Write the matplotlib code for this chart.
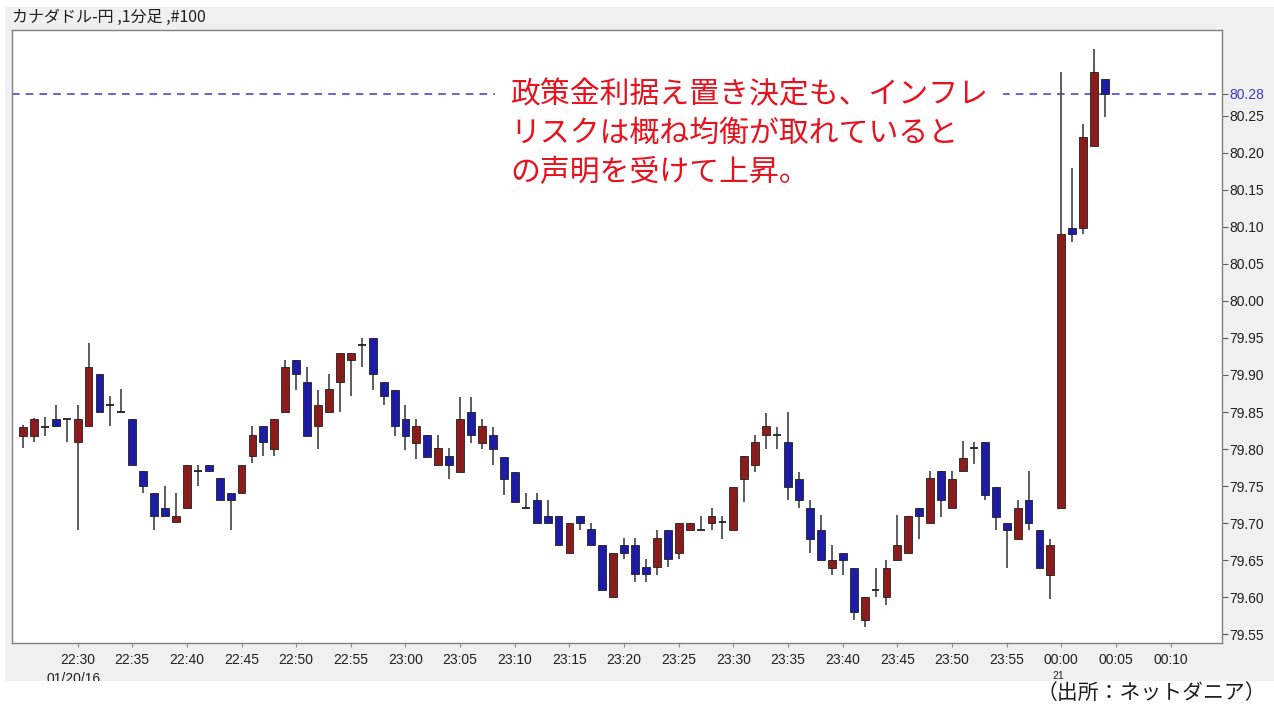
import matplotlib
matplotlib.use('Agg')
import matplotlib.pyplot as plt
from matplotlib.patches import Rectangle
import matplotlib.transforms as mtransforms
import numpy as np

plt.rcParams['font.family'] = ['Noto Sans CJK JP', 'DejaVu Sans']

# カナダドル/円 1分足 (22:25 - 00:04), 100本
opens = [79.818, 79.818, 79.830, 79.841, 79.841, 79.809, 79.831, 79.902, 79.860, 79.850,
         79.841, 79.770, 79.740, 79.721, 79.701, 79.721, 79.770, 79.779, 79.761, 79.740,
         79.740, 79.790, 79.831, 79.800, 79.850, 79.920, 79.891, 79.831, 79.850, 79.890,
         79.920, 79.941, 79.950, 79.891, 79.880, 79.840, 79.808, 79.819, 79.778, 79.790,
         79.769, 79.850, 79.808, 79.819, 79.789, 79.769, 79.720, 79.731, 79.710, 79.710,
         79.660, 79.710, 79.692, 79.670, 79.600, 79.670, 79.670, 79.640, 79.640, 79.691,
         79.660, 79.690, 79.690, 79.700, 79.701, 79.690, 79.759, 79.778, 79.819, 79.819,
         79.810, 79.760, 79.721, 79.691, 79.639, 79.660, 79.639, 79.569, 79.609, 79.600,
         79.650, 79.660, 79.721, 79.700, 79.771, 79.721, 79.771, 79.801, 79.810, 79.749,
         79.700, 79.678, 79.731, 79.690, 79.630, 79.720, 80.099, 80.099, 80.209, 80.300]
highs = [79.832, 79.842, 79.843, 79.860, 79.841, 79.860, 79.943, 79.902, 79.871, 79.881,
         79.841, 79.770, 79.740, 79.750, 79.741, 79.779, 79.779, 79.779, 79.761, 79.740,
         79.779, 79.831, 79.831, 79.841, 79.920, 79.920, 79.911, 79.880, 79.901, 79.930,
         79.930, 79.950, 79.950, 79.891, 79.880, 79.859, 79.840, 79.819, 79.819, 79.801,
         79.870, 79.870, 79.840, 79.830, 79.789, 79.769, 79.740, 79.740, 79.731, 79.710,
         79.700, 79.710, 79.700, 79.670, 79.660, 79.680, 79.680, 79.652, 79.691, 79.691,
         79.700, 79.700, 79.709, 79.720, 79.709, 79.749, 79.790, 79.819, 79.849, 79.830,
         79.850, 79.769, 79.731, 79.711, 79.670, 79.660, 79.639, 79.600, 79.639, 79.650,
         79.711, 79.710, 79.721, 79.771, 79.771, 79.771, 79.811, 79.810, 79.810, 79.749,
         79.700, 79.731, 79.770, 79.690, 79.679, 80.309, 80.179, 80.239, 80.341, 80.300]
lows = [79.801, 79.809, 79.818, 79.831, 79.809, 79.690, 79.831, 79.850, 79.831, 79.850,
        79.779, 79.741, 79.690, 79.709, 79.701, 79.721, 79.750, 79.770, 79.731, 79.690,
        79.740, 79.781, 79.790, 79.790, 79.850, 79.880, 79.818, 79.800, 79.850, 79.850,
        79.871, 79.911, 79.880, 79.860, 79.818, 79.799, 79.787, 79.789, 79.778, 79.759,
        79.769, 79.808, 79.800, 79.778, 79.738, 79.729, 79.720, 79.700, 79.700, 79.670,
        79.660, 79.691, 79.670, 79.610, 79.600, 79.651, 79.620, 79.620, 79.630, 79.640,
        79.651, 79.690, 79.690, 79.690, 79.679, 79.690, 79.729, 79.769, 79.800, 79.800,
        79.731, 79.721, 79.659, 79.650, 79.630, 79.630, 79.569, 79.560, 79.600, 79.589,
        79.650, 79.660, 79.679, 79.700, 79.708, 79.721, 79.771, 79.780, 79.731, 79.690,
        79.639, 79.678, 79.690, 79.639, 79.598, 79.720, 80.080, 80.090, 80.209, 80.249]
closes = [79.830, 79.841, 79.830, 79.831, 79.841, 79.841, 79.911, 79.850, 79.860, 79.850,
          79.779, 79.750, 79.709, 79.709, 79.710, 79.779, 79.770, 79.770, 79.731, 79.731,
          79.779, 79.819, 79.810, 79.841, 79.911, 79.901, 79.818, 79.860, 79.881, 79.930,
          79.930, 79.941, 79.901, 79.871, 79.831, 79.818, 79.831, 79.789, 79.801, 79.778,
          79.840, 79.819, 79.831, 79.800, 79.759, 79.729, 79.720, 79.700, 79.700, 79.670,
          79.700, 79.700, 79.670, 79.610, 79.660, 79.660, 79.631, 79.631, 79.680, 79.651,
          79.700, 79.700, 79.690, 79.710, 79.701, 79.749, 79.790, 79.810, 79.831, 79.819,
          79.749, 79.731, 79.678, 79.650, 79.650, 79.650, 79.580, 79.600, 79.609, 79.639,
          79.670, 79.710, 79.710, 79.761, 79.731, 79.760, 79.788, 79.801, 79.738, 79.708,
          79.691, 79.721, 79.700, 79.639, 79.670, 80.090, 80.090, 80.221, 80.309, 80.279]

tick_labels = ['22:30', '22:35', '22:40', '22:45', '22:50', '22:55', '23:00', '23:05',
               '23:10', '23:15', '23:20', '23:25', '23:30', '23:35', '23:40', '23:45',
               '23:50', '23:55', '00:00', '00:05', '00:10']
price_ticks = [79.55, 79.60, 79.65, 79.70, 79.75, 79.80, 79.85, 79.90, 79.95,
               80.00, 80.05, 80.10, 80.15, 80.20, 80.25]
last_price = 80.28

W, H = 1274, 704
fig = plt.figure(figsize=(W / 100, H / 100), dpi=100, facecolor='white')

# 灰色の背景
bg = Rectangle((5 / W, 1 - 681 / H), (W - 5) / W, (681 - 7) / H,
               transform=fig.transFigure, facecolor='#f0f0f0',
               edgecolor='none', zorder=-10)
fig.patches.append(bg)

ax = fig.add_axes([12 / W, 1 - 643 / H, (1222 - 12) / W, (643 - 30) / H])
ax.set_zorder(1)
ax.set_facecolor('white')

x = np.arange(len(opens))
o = np.array(opens)
c = np.array(closes)
up = c >= o
body_w = 0.72

# ヒゲ
ax.vlines(x, lows, highs, color='#505050', lw=1.3, zorder=2)
# 実体
bottom = np.minimum(o, c)
height = np.abs(c - o)
colors = np.where(up, '#8c1c1c', '#1c1ca6')
solid = height > 0.001
ax.bar(x[solid], height[solid], bottom=bottom[solid], width=body_w,
       color=colors[solid], edgecolor='#202020', linewidth=0.6, zorder=3)
# 同事線
ax.hlines(o[~solid], x[~solid] - body_w / 2, x[~solid] + body_w / 2,
          color='#202020', lw=1.3, zorder=3)

# 最新値の点線
ax.axhline(last_price, color='#3a3ad0', lw=1.1, ls=(0, (5, 4)), zorder=1)

ax.set_xlim(-1.0, 109.7)
ax.set_ylim(79.538, 80.366)

ax.set_xticks(np.arange(5, 5 + 5 * len(tick_labels), 5))
ax.set_xticklabels(tick_labels, family=['Liberation Sans', 'DejaVu Sans'],
                   fontsize=10, color='#202020')
ax.yaxis.tick_right()
ax.set_yticks(price_ticks + [last_price])
ylabels = ['%.2f' % v for v in price_ticks] + ['%.2f' % last_price]
ax.set_yticklabels(ylabels, family=['Liberation Sans', 'DejaVu Sans'], fontsize=10)
for lab in ax.get_yticklabels():
    lab.set_color('#202020')
ax.get_yticklabels()[-1].set_color('#3a3ad0')
ax.tick_params(axis='y', length=4, width=0.8, color='#606060', pad=1)
ax.tick_params(axis='x', length=3, width=0.8, color='#909090', pad=4)

for s in ax.spines.values():
    s.set_color('#808080')
    s.set_linewidth(1.0)

# 日付 (下側は背景の外で切れる)
tr = mtransforms.blended_transform_factory(ax.transData, fig.transFigure)
t1 = ax.text(4.6, 1 - 679 / H, '01/20/16', transform=tr, ha='center', va='center',
             fontsize=10, family=['Liberation Sans', 'DejaVu Sans'], color='#202020')
t2 = ax.text(94.7, 1 - 676 / H, '21', transform=tr, ha='center', va='center',
             fontsize=7.5, family=['Liberation Sans', 'DejaVu Sans'], color='#202020')
for t in (t1, t2):
    t.set_clip_on(True)
    t.set_clip_path(bg)

# タイトル
fig.text(12 / W, 1 - 17 / H, 'カナダドル-円 ,1分足 ,#100', ha='left', va='center',
         fontsize=11.5, color='#202020')

# 注記
ax.text(44.6, 80.300, '政策金利据え置き決定も、インフレ\nリスクは概ね均衡が取れていると\nの声明を受けて上昇。',
        ha='left', va='top', fontsize=21.5, color='#e6121e', linespacing=1.33,
        bbox=dict(boxstyle='square,pad=0.5', fc='white', ec='none'), zorder=5)

# 出所
fig.text(1266 / W, 1 - 693 / H, '（出所：ネットダニア）', ha='right', va='center',
         fontsize=15, color='#202020')

fig.savefig('out.png', dpi=100, facecolor='white')
